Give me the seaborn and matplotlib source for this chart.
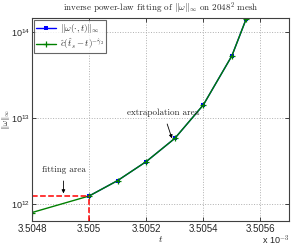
import numpy as np
import pandas as pd
import matplotlib
matplotlib.use("Agg")
import matplotlib.pyplot as plt
import seaborn as sns

sns.set_style("ticks")
plt.rcParams["font.family"] = ["Liberation Sans", "DejaVu Sans"]
plt.rcParams["mathtext.fontset"] = "cm"
plt.rcParams["font.size"] = 7

# time in units of 1e-3
t_data = [3.5050, 3.5051, 3.5052, 3.5053, 3.5054, 3.5055, 3.50555]
w_data = [1.23e12, 1.86e12, 3.09e12, 5.75e12, 1.41e13, 5.25e13, 1.41e14]
t_fit = [3.5048, 3.5050, 3.5051, 3.5052, 3.5053, 3.5054, 3.5055, 3.50555]
w_fit = [7.9e11, 1.23e12, 1.86e12, 3.09e12, 5.75e12, 1.41e13, 5.25e13, 1.41e14]
xticks = [3.5048, 3.5050, 3.5052, 3.5054, 3.5056]
xticklabels = ["3.5048", "3.505", "3.5052", "3.5054", "3.5056"]

data = pd.DataFrame({"t": t_data, "w": w_data})
fit = pd.DataFrame({"t": t_fit, "w": w_fit})

fig = plt.figure(figsize=(2.94, 2.46), dpi=100)
ax = fig.add_axes([0.109, 0.102, 0.874, 0.825])

sns.lineplot(data=data, x="t", y="w", color="#0000ff", marker="s", markersize=2.5,
             markeredgewidth=0, linewidth=1, ax=ax,
             label=r"$\|\omega(\cdot,t)\|_\infty$")
sns.lineplot(data=fit, x="t", y="w", color="#008000", marker="+", markersize=4,
             markeredgewidth=0.9, markeredgecolor="#008000", linewidth=1, ax=ax,
             label=r"$\hat{c}(\hat{t}_s-t)^{-\hat{\gamma}_2}$")

ax.set_yscale("log")
ax.set_xlim(3.5048, 3.5057)
ax.set_ylim(10 ** 11.8, 10 ** 14.16)
ax.set_xticks(xticks)
ax.set_xticklabels(xticklabels)
ax.set_yticks([1e12, 1e13, 1e14])
ax.yaxis.set_minor_locator(matplotlib.ticker.NullLocator())
ax.tick_params(direction="in", length=3, width=0.6, top=True, right=True, pad=2.5,
               labelsize=7)
ax.tick_params(axis="y", labelsize=6.5, pad=1.5)
ax.grid(True, linestyle=":", color="#b0b0b0", linewidth=0.7)
for s in ax.spines.values():
    s.set_linewidth(0.8)
    s.set_color("#404040")

# fitting point marker lines
ax.plot([3.5048, t_data[0]], [w_data[0], w_data[0]], "--", color="#ff0000", lw=1.1)
ax.plot([t_data[0], t_data[0]], [10 ** 11.8, w_data[0]], "--", color="#ff0000", lw=1.1)

ax.annotate("fitting area", xy=(3.50491, 10 ** 12.12), xytext=(3.50491, 10 ** 12.40),
            ha="center", va="center", fontfamily="cmr10", fontsize=6.5,
            arrowprops=dict(arrowstyle="-|>", color="black", lw=0.6, mutation_scale=5,
                            shrinkA=3, shrinkB=0))
ax.annotate("extrapolation area", xy=(3.50529, 10 ** 12.76), xytext=(3.50526, 10 ** 13.06),
            ha="center", va="center", fontfamily="cmr10", fontsize=6.5,
            arrowprops=dict(arrowstyle="-|>", color="black", lw=0.6, mutation_scale=5,
                            shrinkA=3, shrinkB=0))

ax.set_title(r"inverse power-law fitting of $\|\omega\|_\infty$ on $2048^2$ mesh",
             fontfamily="cmr10", fontsize=6.5, pad=5)
ax.set_xlabel(r"$t$", fontsize=7, labelpad=0)
ax.set_ylabel(r"$\|\omega\|_\infty$", fontsize=6)
ax.yaxis.set_label_coords(-0.078, 0.5)
fig.text(0.985, -0.004, r"x 10$^{-3}$", ha="right", va="bottom", fontsize=6.5)

leg = ax.legend(loc="upper left", fontsize=6.5, frameon=True, fancybox=False,
                borderaxespad=0.2, handlelength=2.2, borderpad=0.25, labelspacing=0.15,
                handletextpad=0.4)
leg.get_frame().set_edgecolor("#404040")
leg.get_frame().set_linewidth(0.8)

fig.savefig("out.png", dpi=100)
